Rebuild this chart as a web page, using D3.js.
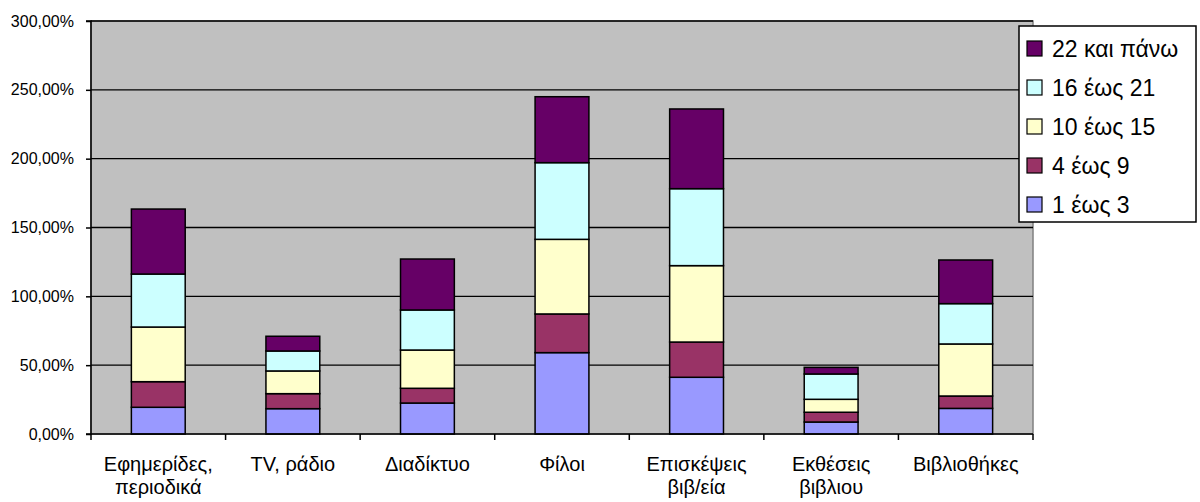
<!DOCTYPE html>
<html><head><meta charset="utf-8">
<script src="https://cdn.jsdelivr.net/npm/d3@7"></script>
<style>
html,body{margin:0;padding:0;background:#fff;}
text{font-family:"Liberation Sans",Arial,sans-serif;}
</style></head>
<body>
<svg id="chart" width="1200" height="502"></svg>
<script>
const categories = [["Εφημερίδες,","περιοδικά"],["TV, ράδιο"],["Διαδίκτυο"],["Φίλοι"],["Επισκέψεις","βιβ/εία"],["Εκθέσεις","βιβλιου"],["Βιβλιοθήκες"]];
const seriesNames = ["1 έως 3","4 έως 9","10 έως 15","16 έως 21","22 και πάνω"];
const s1to3   = [19.4, 18.4, 22.5, 59.1, 41.2, 8.7, 18.6];
const s4to9   = [18.6, 10.9, 10.7, 28.1, 25.6, 7.1, 9.0];
const s10to15 = [39.7, 16.5, 27.8, 54.2, 55.5, 9.4, 37.8];
const s16to21 = [38.5, 14.5, 29.1, 55.7, 55.9, 18.4, 29.3];
const s22plus = [47.2, 10.7, 37.0, 47.9, 57.9, 4.8, 31.7];
const yTicks = [0, 50, 100, 150, 200, 250, 300];
const colors = ["#9999FF","#993366","#FFFFCC","#CCFFFF","#660066"];

const seriesVals = [s1to3, s4to9, s10to15, s16to21, s22plus];
const data = categories.map((c,i)=>{ const o={idx:i}; seriesNames.forEach((s,j)=>o[s]=seriesVals[j][i]); return o; });
const stack = d3.stack().keys(seriesNames)(data);

const svg = d3.select("#chart");
const L=91, R=1033, T=21, B=434;
const x = d3.scaleBand().domain(d3.range(categories.length)).range([L,R]).paddingInner(0.6).paddingOuter(0.3);
const xb = d3.scaleBand().domain(d3.range(categories.length)).range([L,R]);
const y = d3.scaleLinear().domain([0,300]).range([B,T]);

// plot area
svg.append("rect").attr("x",L).attr("y",T).attr("width",R-L).attr("height",B-T)
  .attr("fill","#C0C0C0").attr("stroke","#808080").attr("stroke-width",1.5);

// gridlines
svg.append("g").selectAll("line").data(yTicks.filter(v=>v>0)).join("line")
  .attr("x1",L).attr("x2",R).attr("y1",d=>y(d)).attr("y2",d=>y(d))
  .attr("stroke","#000").attr("stroke-width",1.3);

// bars
svg.append("g").selectAll("g").data(stack).join("g")
  .attr("fill",(d,i)=>colors[i])
  .selectAll("rect").data(d=>d).join("rect")
  .attr("x",(d,i)=>x(i)).attr("width",x.bandwidth())
  .attr("y",d=>y(d[1])).attr("height",d=>y(d[0])-y(d[1]))
  .attr("stroke","#000").attr("stroke-width",1.5);

// y axis
const yAxis = d3.axisLeft(y).tickValues(yTicks).tickSize(5).tickPadding(12)
  .tickFormat(d=>d3.format(".2f")(d).replace(".",",")+"%");
const ya = svg.append("g").attr("transform",`translate(${L},0)`).call(yAxis);
ya.select(".domain").attr("stroke","#000").attr("stroke-width",1.5).attr("d",`M-5,${B}H0V${T}H-5`);
ya.selectAll(".tick line").attr("stroke","#000").attr("stroke-width",1.5);
ya.selectAll(".tick text").attr("font-size","16px").attr("fill","#000").attr("font-family","Liberation Sans, Arial, sans-serif");

// x axis
const xa = svg.append("g").attr("transform",`translate(0,${B})`);
xa.append("line").attr("x1",L).attr("x2",R).attr("y1",0).attr("y2",0).attr("stroke","#000").attr("stroke-width",1.5);
xa.selectAll("line.t").data(d3.range(categories.length+1)).join("line").attr("class","t")
  .attr("x1",d=>L+d*xb.step()).attr("x2",d=>L+d*xb.step()).attr("y1",0).attr("y2",6)
  .attr("stroke","#000").attr("stroke-width",1.5);
const lbl = xa.selectAll("text").data(categories).join("text")
  .attr("text-anchor","middle").attr("font-size","20px").attr("fill","#000")
  .attr("x",(d,i)=>xb(i)+xb.bandwidth()/2);
lbl.selectAll("tspan").data(d=>d).join("tspan")
  .attr("x",function(){return d3.select(this.parentNode).attr("x");})
  .attr("y",(d,j)=>37+j*23).text(d=>d);

// legend
const lg = svg.append("g");
lg.append("rect").attr("x",1019).attr("y",26).attr("width",177).attr("height",196)
  .attr("fill","#fff").attr("stroke","#000").attr("stroke-width",1.5);
const items = seriesNames.map((s,i)=>({s,c:colors[i]})).reverse();
const li = lg.selectAll("g").data(items).join("g")
  .attr("transform",(d,i)=>`translate(1027,${48+i*39})`);
li.append("rect").attr("x",0).attr("y",-7).attr("width",15).attr("height",15)
  .attr("fill",d=>d.c).attr("stroke","#000").attr("stroke-width",1.2);
li.append("text").attr("x",25).attr("y",1).attr("dy","0.35em").attr("font-size","23px").attr("fill","#000").text(d=>d.s);
</script>
</body></html>
